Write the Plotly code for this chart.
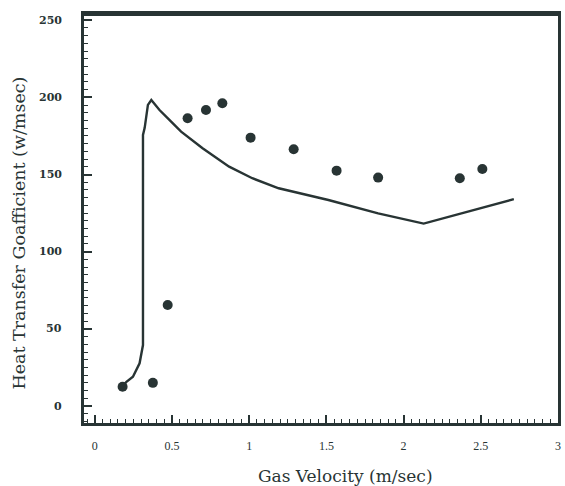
import plotly.graph_objects as go

# Measured data points (gas velocity m/s, heat transfer coefficient)
pts_x = [0.18, 0.376, 0.472, 0.601, 0.72, 0.826, 1.009, 1.288, 1.566, 1.835, 2.364, 2.51]
pts_y = [12.5, 15, 65.5, 186.5, 191.8, 196.2, 173.9, 166.4, 152.5, 148, 147.6, 153.6]

# Model curve
line_x = [0.175, 0.205, 0.247, 0.29, 0.312, 0.312, 0.323, 0.333, 0.344, 0.366, 0.419,
          0.483, 0.559, 0.698, 0.87, 1.02, 1.191, 1.513, 1.749, 1.835, 2.13, 2.714]
line_y = [12.3, 15.7, 19, 27.7, 39.5, 175.6, 180.2, 188.6, 195.1, 198.3, 191.8,
          185.4, 177.8, 167.0, 155.1, 147.6, 141.1, 133.5, 127, 124.8, 118.2, 134]

x_ticks = [0, 0.5, 1, 1.5, 2, 2.5, 3]
x_labels = ["0", "0.5", "1", "1.5", "2", "2.5", "3"]
y_ticks = [0, 50, 100, 150, 200, 250]
y_labels = ["0", "50", "100", "150", "200", "250"]

ink = "#283434"
serif = "DejaVu Serif"
lserif = "Liberation Serif"

fig = go.Figure()
fig.add_trace(go.Scatter(x=line_x, y=line_y, mode="lines",
                         line=dict(color=ink, width=2.4), showlegend=False))
fig.add_trace(go.Scatter(x=pts_x, y=pts_y, mode="markers",
                         marker=dict(color=ink, size=10), showlegend=False))

annotations = [
    dict(text="Gas Velocity (m/sec)", xref="paper", yref="paper",
         x=0.552, y=-0.13, showarrow=False, xanchor="center", yanchor="middle",
         font=dict(size=17, family=serif, color=ink)),
    dict(text="Heat Transfer Goafficient (w/msec)", xref="paper", yref="paper",
         x=-0.138, y=0.4645, showarrow=False, xanchor="center", yanchor="middle",
         textangle=-90, font=dict(size=17.5, family=serif, color=ink)),
]
# y tick labels placed away from the axis, as in the original
for v, lab in zip(y_ticks, y_labels):
    annotations.append(dict(text=lab, xref="paper", yref="y", x=-0.042, y=v,
                            xanchor="right", yanchor="middle", showarrow=False,
                            font=dict(size=11, family=serif, color=ink, weight="bold")))

fig.update_layout(
    width=565, height=486,
    margin=dict(l=84, r=4, t=14, b=63),
    paper_bgcolor="white", plot_bgcolor="white",
    font=dict(family=serif, color=ink),
    xaxis=dict(range=[-0.07, 3.0], tickvals=x_ticks, ticktext=x_labels,
               showgrid=False, zeroline=False,
               showline=True, linewidth=3, linecolor=ink, mirror=True,
               ticks="inside", ticklen=8, tickwidth=1.5, tickcolor=ink,
               tickfont=dict(size=12, family=lserif, color=ink),
               ticklabelstandoff=10,
               minor=dict(dtick=0.05, ticks="inside", ticklen=4, tickcolor=ink, tickwidth=1)),
    yaxis=dict(range=[-11, 254], tickvals=y_ticks, showticklabels=False,
               showgrid=False, zeroline=False,
               showline=True, linewidth=3, linecolor=ink, mirror=True,
               ticks="inside", ticklen=8, tickwidth=1.5, tickcolor=ink,
               minor=dict(dtick=5, ticks="inside", ticklen=4, tickcolor=ink, tickwidth=1)),
    annotations=annotations,
    shapes=[dict(type="line", xref="paper", yref="paper", x0=0, x1=1, y0=1, y1=1,
                 line=dict(color=ink, width=4))],
)

fig.write_html("out.html", config={"displayModeBar": False},
               post_script="document.body.style.margin='0';")
